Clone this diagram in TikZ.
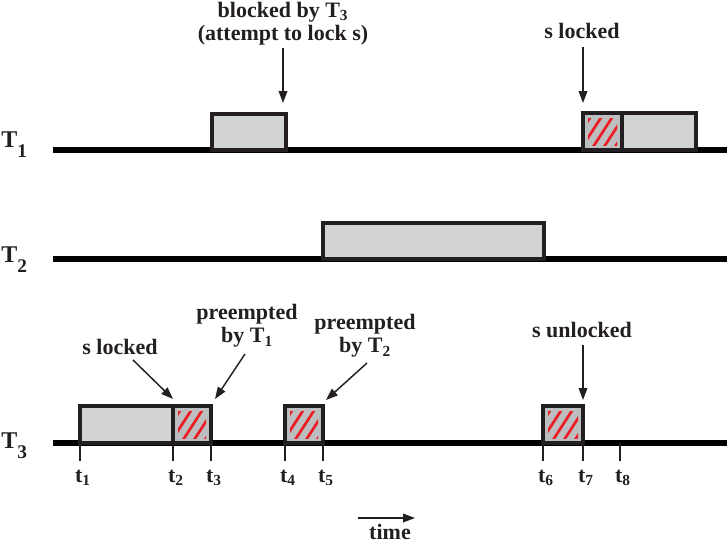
\documentclass[tikz,border=0pt]{standalone}
\usepackage{fontspec}
\setmainfont{Liberation Serif}
\usetikzlibrary{arrows.meta}

\definecolor{ink}{HTML}{231F20}
\definecolor{runfill}{HTML}{D1D3D4}
\definecolor{lockfill}{HTML}{BCBEC0}
\definecolor{hatchred}{HTML}{ED1C24}

% big task name with a low subscript
\newcommand{\tname}[1]{T\raisebox{-8pt}{\fontsize{14.5}{14}\selectfont #1}}
% hatched (locked) part of a run, #1 left, #2 right, #3 top, #4 bottom
\newcommand{\lockpart}[4]{%
  \fill[lockfill] (#1,#3) rectangle (#2,#4);
  \begin{scope}
    \clip (#1+5,#3+5) rectangle (#2-5,#4-5);
    \foreach \k in {-34,-23,...,34}
      \draw[hatch] (#1+\k,#4-3) -- ++(22,-34);
  \end{scope}}

\begin{document}
\begin{tikzpicture}[x=0.75pt,y=-0.75pt,
  lbl/.style={font=\fontsize{16.5}{17.5}\selectfont\bfseries, text=ink, align=center, inner sep=0pt},
  taskname/.style={font=\fontsize{18}{18}\selectfont\bfseries, text=ink, inner sep=0pt, anchor=base west},
  ticklbl/.style={font=\fontsize{16.5}{16}\selectfont\bfseries, text=ink, inner sep=0pt, anchor=base},
  timeline/.style={line width=4pt, draw=black},
  tickline/.style={line width=1.6pt, draw=ink},
  runbox/.style={draw=ink, line width=3pt, fill=runfill},
  boxline/.style={draw=ink, line width=3pt},
  hatch/.style={draw=hatchred, line width=2pt, line cap=round},
  callout/.style={-{Triangle[length=9pt,width=6.5pt]}, line width=1.1pt, draw=ink}]
  \useasboundingbox (0,0) rectangle (727,543);

  % Task names
  \node[taskname] (T1) at (1,147) {\tname{1}};
  \node[taskname] (T2) at (1,262) {\tname{2}};
  \node[taskname] (T3) at (1,448) {\tname{3}};

  % Time lines
  \draw[timeline] (53,150) -- (727,150);
  \draw[timeline] (53,259) -- (727,259);
  \draw[timeline] (53,443) -- (727,443);

  % T1 runs
  \draw[runbox] (212,150) rectangle (286,114);
  \fill[runfill] (622,150) rectangle (696,113);
  \lockpart{583}{622}{113}{150}
  \draw[boxline] (583,150) rectangle (696,113);
  \draw[boxline] (622,113) -- (622,150);

  % T2 run
  \draw[runbox] (323,259) rectangle (544,223);

  % T3 runs
  \draw[runbox] (80,443) rectangle (173,406);
  \lockpart{173}{211}{406}{443}
  \draw[boxline] (173,443) rectangle (211,406);
  \lockpart{285}{323}{406}{443}
  \draw[boxline] (285,443) rectangle (323,406);
  \lockpart{543}{583}{406}{443}
  \draw[boxline] (543,443) rectangle (583,406);

  % Ticks
  \foreach \n/\x in {1/80,2/173,3/211,4/285,5/323,6/543,7/583,8/620} {
    \coordinate (k\n) at (\x,443);
    \node[ticklbl] (t\n) at (\x+3,482) {t\textsubscript{\n}};
    \draw[tickline] (k\n) -- ++(0,18);
  }

  % Labels
  \node[lbl, anchor=north] (blocked) at (283,2) {blocked by T\textsubscript{3}\\(attempt to lock s)};
  \node[lbl] (lockA) at (582,31) {s locked};
  \node[lbl] (lockC) at (120,347) {s locked};
  \node[lbl] (preA) at (247,326) {preempted\\by T\textsubscript{1}};
  \node[lbl] (preB) at (365,336) {preempted\\by T\textsubscript{2}};
  \node[lbl] (unlock) at (582,330) {s unlocked};
  \node[lbl] (time) at (390,532) {time};

  % Arrow ends
  \coordinate (eBlocked) at (283,103);
  \coordinate (eLockA) at (583,103);
  \coordinate (eLockC) at (173,399);
  \coordinate (ePreA) at (215,399);
  \coordinate (ePreB) at (326,400);
  \coordinate (eUnlock) at (583,400);
  \coordinate (sTime) at (358,518);
  \coordinate (eTime) at (415,518);

  % Callouts
  \draw[callout] (283,48) -- (eBlocked);
  \draw[callout] (583,47) -- (eLockA);
  \draw[callout] (133,360) -- (eLockC);
  \draw[callout] (245,354) -- (ePreA);
  \draw[callout] (367,363) -- (ePreB);
  \draw[callout] (583,345) -- (eUnlock);
  \draw[callout] (sTime) -- (eTime);
\end{tikzpicture}
\end{document}
